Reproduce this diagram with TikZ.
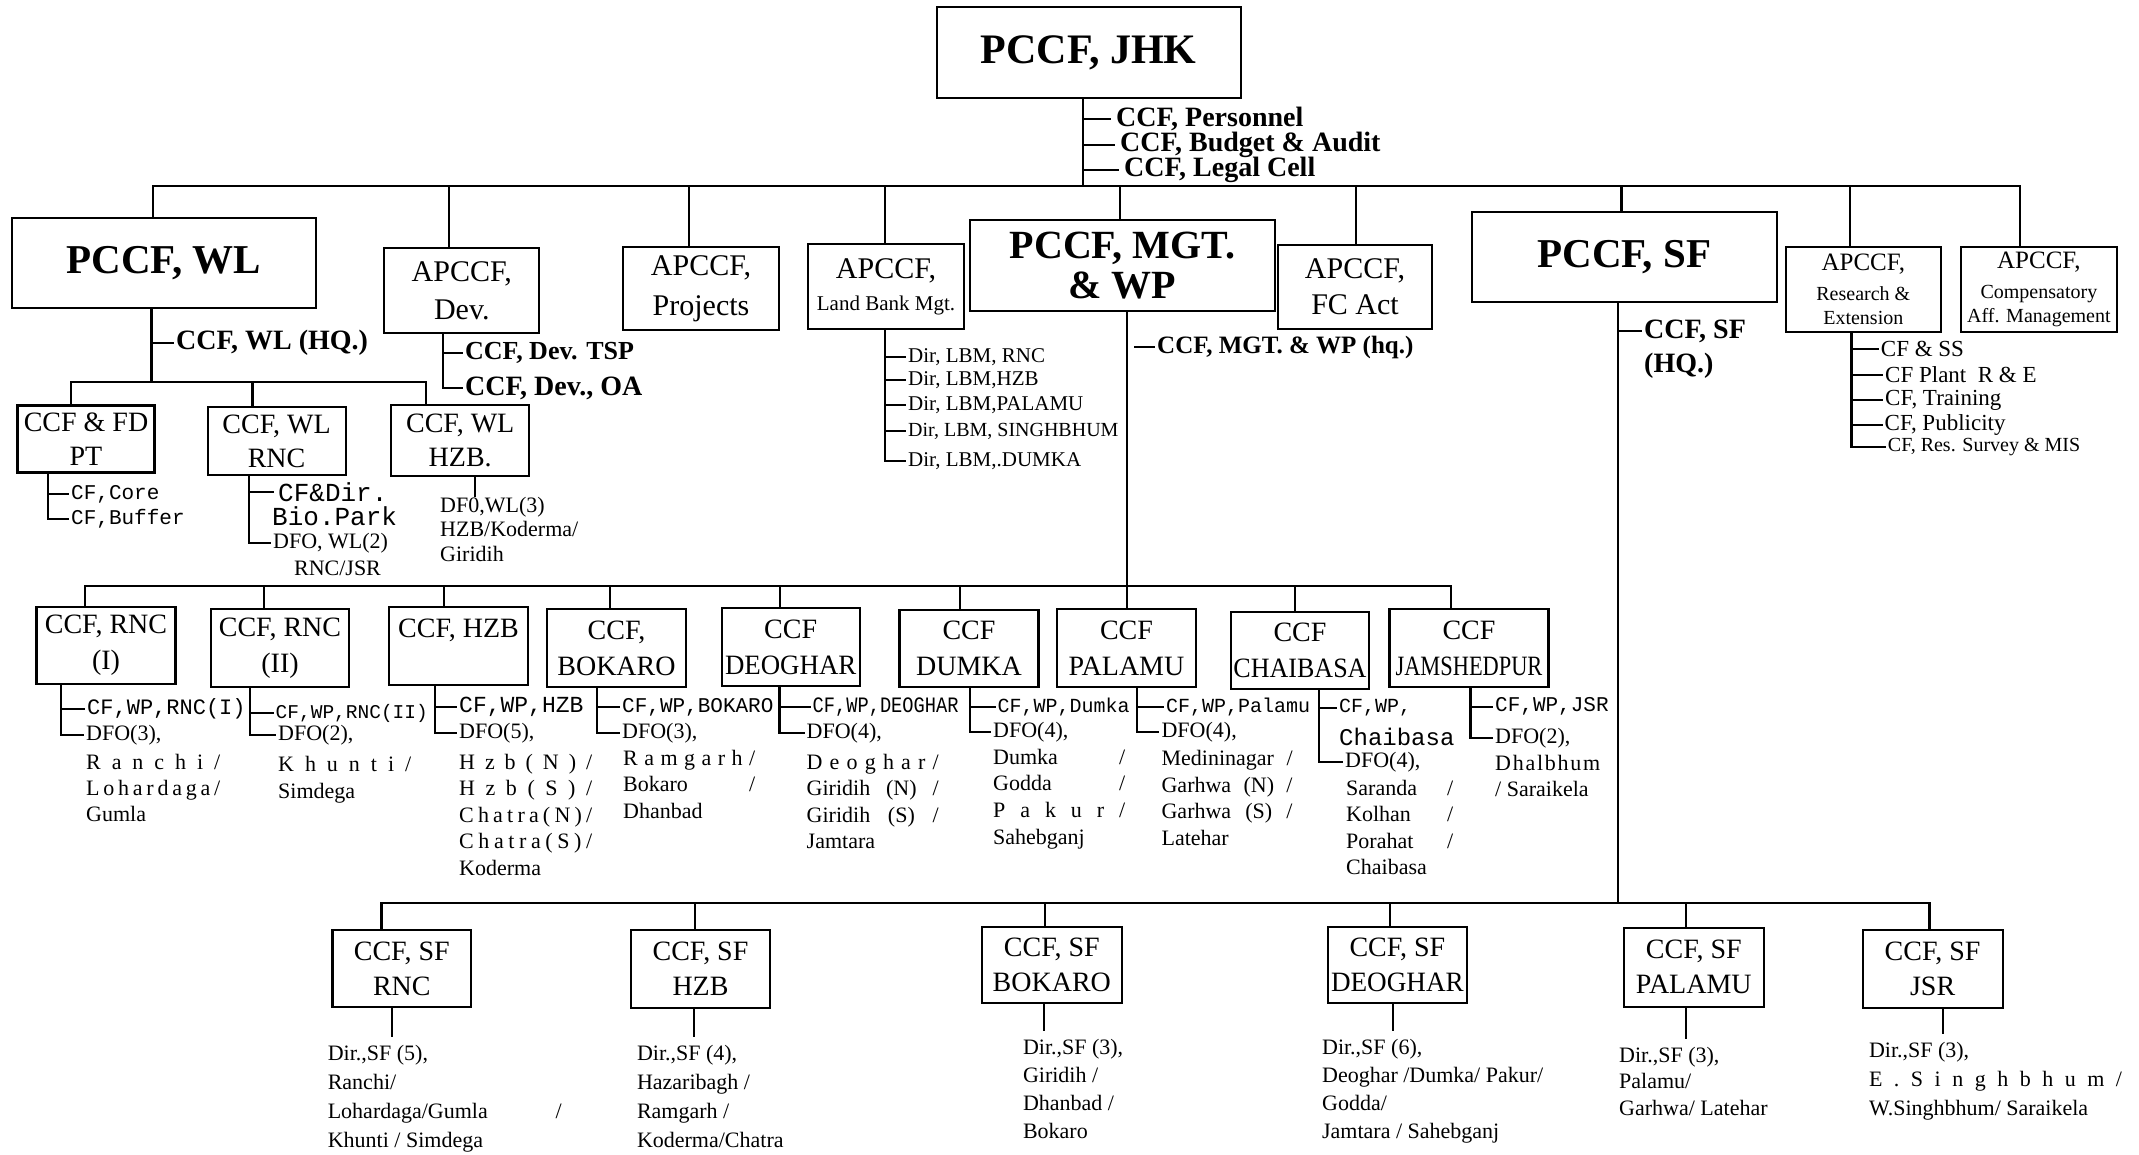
\documentclass[tikz,border=0pt]{standalone}
\usepackage{fontspec}
\usepackage{graphicx}
\setmainfont{Liberation Serif}
\setmonofont{Liberation Mono}
\usetikzlibrary{positioning}

\newcommand\fsz[2]{\fontsize{#1}{#2}\selectfont}
\newcommand\wspread[2]{\makebox[#1pt][s]{#2}}
\newcommand\lspread[2]{\makebox[#1pt][s]{\lspreadA#2\relax}}
\def\lspreadA#1{#1\lspreadB}
\def\lspreadB#1{\ifx\relax#1\else\hfil#1\expandafter\lspreadB\fi}

\tikzset{
  orgbox/.style={draw, line width=2.2pt, inner sep=0pt, align=center},
  wire/.style={line width=2.2pt},
  stub/.style={wire, shorten >=8pt},
  entry/.style={anchor=west, inner sep=2pt},
  typew/.style={entry, font=\ttfamily\fsz{#1}{#1}},
  dfo/.style={entry, font=\fsz{22}{22}},
  hqtext/.style={entry, font=\bfseries\fsz{#1}{#1}},
  block/.style 2 args={anchor=north west, inner sep=0pt, align=left, font=\fsz{#1}{#2}},
}

\begin{document}
\begin{tikzpicture}[x=1pt, y=-1pt]
\useasboundingbox (0,0) rectangle (2139,1154);

% top
\node[orgbox, minimum width=304pt, minimum height=91pt, font=\bfseries\fsz{42}{42}] (jhk) at (1088.7,52.5) {PCCF, JHK};
\coordinate (jhks) at (1083,186);
\draw[wire] (jhks |- jhk.south) -- (jhks);
\node[hqtext=28, inner sep=0pt] (per) at (1116,119) {CCF, Personnel};
\node[hqtext=28, inner sep=0pt] (bud) at (1120,145) {CCF, Budget \& Audit};
\node[hqtext=28, inner sep=0pt] (leg) at (1124,170) {CCF, Legal Cell};
\foreach \n in {per,bud,leg}
  \draw[wire] (jhks |- \n.west) -- ([xshift=-5pt]\n.west);

% first row
\node[orgbox, minimum width=304pt, minimum height=90pt, font=\bfseries\fsz{41}{41}] (wl) at (163.8,263) {PCCF, WL};
\node[orgbox, minimum width=155pt, minimum height=85pt, font=\fsz{30}{38}] (dev) at (461.8,290.5) {APCCF,\\Dev.};
\node[orgbox, minimum width=156pt, minimum height=83pt, font=\fsz{30}{40}] (proj) at (701,288.5) {APCCF,\\Projects};
\node[orgbox, minimum width=156pt, minimum height=85pt, font=\fsz{21}{32}] (lbm) at (886,286.5) {{\fsz{30}{32}APCCF,}\\Land Bank Mgt.};
\node[orgbox, minimum width=305pt, minimum height=91pt, font=\bfseries\fsz{40}{40}] (mgt) at (1122.5,265.5) {PCCF, MGT.\\\& WP};
\node[orgbox, minimum width=154pt, minimum height=84pt, font=\fsz{30}{36}] (fca) at (1355,287) {APCCF,\\FC Act};
\node[orgbox, minimum width=305pt, minimum height=90pt, font=\bfseries\fsz{41}{41}] (sf) at (1624.3,256.7) {PCCF, SF};
\node[orgbox, minimum width=155pt, minimum height=85pt, font=\fsz{20}{24}] (rne) at (1863.3,289.2) {{\fsz{25}{24}APCCF,}\\[6pt]Research \&\\Extension};
\node[orgbox, minimum width=156pt, minimum height=85pt, font=\fsz{20}{24}] (caf) at (2038.9,289.3) {{\fsz{25}{24}APCCF,}\\[6pt]Compensatory\\Aff. Management};

\coordinate (b1w) at (153,186);
\coordinate (b1e) at (2020,186);
\draw[wire] (b1w |- wl.north) -- (b1w) -- (b1e) -- (b1e |- caf.north);
\foreach \x/\b in {448.6/dev, 688.7/proj, 884.6/lbm, 1120/mgt, 1355.6/fca, 1621.5/sf, 1850/rne} {
  \coordinate (t) at (\x,186);
  \draw[wire] (t) -- (t |- \b.north);
}

% wild life
\coordinate (wls) at ([xshift=-12.3pt]wl.south);
\node[hqtext=28] (wlhq) at (174,343) {CCF, WL (HQ.)};
\draw[wire] (wls |- wlhq.west) -- (wlhq.west);
\node[orgbox, minimum width=137pt, minimum height=67pt, font=\fsz{28}{34}] (pt) at (86,439) {CCF \& FD\\PT};
\node[orgbox, minimum width=138pt, minimum height=68pt, font=\fsz{28}{34}] (wlr) at (276.6,440.9) {CCF, WL\\RNC};
\node[orgbox, minimum width=138pt, minimum height=71pt, font=\fsz{28}{34}] (wlh) at (460.2,440.5) {CCF, WL\\HZB.};
\coordinate (b2w) at (71,382);
\coordinate (b2e) at (425.6,382);
\draw[wire] (wls) -- (wls |- b2w);
\draw[wire] (b2w |- pt.north) -- (b2w) -- (b2e) -- (b2e |- wlh.north);
\coordinate (t) at (252.5,382);
\draw[wire] (t) -- (t |- wlr.north);

\coordinate (pts) at ([xshift=-38pt]pt.south);
\node[typew=21] (core) at (69,494) {CF,Core};
\node[typew=21] (buf) at (69,519) {CF,Buffer};
\draw[wire] (pts) |- (buf.west);
\draw[wire] (pts |- core.west) -- (core.west);

\coordinate (wlrs) at ([xshift=-27.6pt]wlr.south);
\node[typew=26, inner sep=0pt] (bio) at (278,492) {CF\&Dir.};
\node[typew=26, inner sep=0pt] (park) at (272,516) {Bio.Park};
\node[dfo] (wldfo) at (271,543) {DFO, WL(2)};
\node[font=\fsz{22}{22}, inner sep=0pt] (wljsr) at (337.5,568) {RNC/JSR};
\draw[wire] (wlrs) |- (wldfo.west);
\draw[wire] (wlrs |- bio.west) -- ([xshift=-4pt]bio.west);

\coordinate (wlhs) at ([xshift=14.8pt]wlh.south);
\node[block={22}{24.5}] (wlhd) at (440,497) {DF0,WL(3)\\HZB/Koderma/\\Giridih};
\draw[wire] (wlhs) -- (wlhs |- wlhd.north);

% development
\coordinate (devs) at ([xshift=-18.8pt]dev.south);
\node[hqtext=26] (tsp) at (463,352.7) {CCF, Dev. TSP};
\node[hqtext=28] (oa) at (463,388) {CCF, Dev., OA};
\draw[wire] (devs) |- (oa.west);
\draw[wire] (devs |- tsp.west) -- (tsp.west);

% land bank
\coordinate (lbms) at ([xshift=-1.4pt]lbm.south);
\foreach \n/\y/\t in {l1/357/{Dir, LBM, RNC}, l2/380/{Dir, LBM,HZB}, l3/405/{Dir, LBM,PALAMU}, l4/431/{\fsz{20}{20}Dir, LBM, SINGHBHUM}, l5/461/{Dir, LBM,.DUMKA}}
  \node[entry, font=\fsz{21}{21}] (\n) at (906,\y) {\t};
\draw[wire] (lbms) |- (l5.west);
\foreach \n in {l1,l2,l3,l4}
  \draw[wire] (lbms |- \n.west) -- (\n.west);

% management and working plan
\coordinate (mgts) at ([xshift=4.5pt]mgt.south);
\coordinate (mgtq) at (1134,347);
\node[hqtext=25] (mgthq) at (1155,347) {CCF, MGT. \& WP (hq.)};
\draw[wire] (mgtq) -- (mgthq.west);

\node[orgbox, minimum width=139pt, minimum height=77pt, font=\fsz{28}{36}] (r1) at (106,645.5) {CCF, RNC\\(I)};
\node[orgbox, minimum width=138pt, minimum height=78pt, font=\fsz{28}{36}] (r2) at (280,648) {CCF, RNC\\(II)};
\node[orgbox, minimum width=139pt, minimum height=78pt, font=\fsz{28}{36}] (hz) at (458.5,646) {CCF, HZB\\\mbox{}};
\node[orgbox, minimum width=139pt, minimum height=78pt, font=\fsz{28}{36}] (bk) at (616.5,648) {CCF,\\BOKARO};
\node[orgbox, minimum width=138pt, minimum height=78pt, font=\fsz{28}{36}] (dg) at (790.7,647) {CCF\\\scalebox{0.96}[1]{DEOGHAR}};
\node[orgbox, minimum width=139pt, minimum height=77pt, font=\fsz{28}{36}] (dm) at (969,648.5) {CCF\\DUMKA};
\node[orgbox, minimum width=139pt, minimum height=78pt, font=\fsz{28}{36}] (pl) at (1126.5,648) {CCF\\PALAMU};
\node[orgbox, minimum width=138pt, minimum height=77pt, font=\fsz{28}{36}] (ch) at (1300,650.5) {CCF\\\scalebox{0.93}[1]{CHAIBASA}};
\node[orgbox, minimum width=159pt, minimum height=78pt, font=\fsz{28}{36}] (js) at (1469,648) {CCF\\\scalebox{0.8}[1]{JAMSHEDPUR}};

\draw[wire] (mgts) -- (mgts |- pl.north);
\coordinate (b3w) at (85,586);
\coordinate (b3e) at (1451,586);
\draw[wire] (b3w |- r1.north) -- (b3w) -- (b3e) -- (b3e |- js.north);
\foreach \x/\b in {264/r2, 444/hz, 609.7/bk, 780/dg, 960/dm, 1294.6/ch} {
  \coordinate (t) at (\x,586);
  \draw[wire] (t) -- (t |- \b.north);
}

% territorial circles
\coordinate (r1s) at ([xshift=-45pt]r1.south);
\node[typew=22] (r1a) at (85,709) {CF,WP,RNC(I)};
\node[dfo] (r1b) at (84,735) {DFO(3),};
\node[block={22}{26}] (r1c) at (86,753.7) {\lspread{134}{Ranchi/}\\\lspread{134}{Lohardaga/}\\Gumla};
\draw[wire] (r1s) |- (r1b.west);
\draw[wire] (r1s |- r1a.west) -- (r1a.west);

\coordinate (r2s) at ([xshift=-30pt]r2.south);
\node[typew=19.5] (r2a) at (273.5,713) {CF,WP,RNC(II)};
\node[dfo] (r2b) at (276,735) {DFO(2),};
\node[block={22}{26.7}] (r2c) at (278,756) {\lspread{133}{Khunti/}\\Simdega};
\draw[wire] (r2s) |- (r2b.west);
\draw[wire] (r2s |- r2a.west) -- (r2a.west);

\coordinate (hzs) at ([xshift=-23.7pt]hz.south);
\node[typew=23] (hza) at (457,707) {CF,WP,HZB};
\node[dfo] (hzb) at (457,733) {DFO(5),};
\node[block={22}{26.6}] (hzc) at (459,753.7) {\lspread{133}{Hzb(N)/}\\\lspread{133}{Hzb(S)/}\\\lspread{133}{Chatra(N)/}\\\lspread{133}{Chatra(S)/}\\Koderma};
\draw[wire] (hzs) |- (hzb.west);
\draw[wire] (hzs |- hza.west) -- (hza.west);

\coordinate (bks) at ([xshift=-19.5pt]bk.south);
\node[typew=21] (bka) at (620,707) {CF,WP,BOKARO};
\node[dfo] (bkb) at (620,733) {DFO(3),};
\node[block={22}{26.5}] (bkc) at (623,750) {\lspread{132}{Ramgarh/}\\\wspread{132}{Bokaro /}\\Dhanbad};
\draw[wire] (bks) |- (bkb.west);
\draw[wire] (bks |- bka.west) -- (bka.west);

\coordinate (dgs) at ([xshift=-11.3pt]dg.south);
\node[typew=22] (dga) at (810.5,707) {\scalebox{0.85}[1]{CF,WP,DEOGHAR}};
\node[dfo] (dgb) at (804.5,733) {DFO(4),};
\node[block={22}{26.6}] (dgc) at (806.5,753.7) {\lspread{132}{Deoghar/}\\\wspread{132}{Giridih (N) /}\\\wspread{132}{Giridih (S) /}\\Jamtara};
\draw[wire] (dgs) |- (dgb.west);
\draw[wire] (dgs |- dga.west) -- (dga.west);

\coordinate (dms) at ([xshift=1pt]dm.south);
\node[typew=20] (dma) at (995.5,707) {CF,WP,Dumka};
\node[dfo] (dmb) at (991,731.7) {DFO(4),};
\node[block={22}{26.8}] (dmc) at (993,748.7) {\wspread{132}{Dumka /}\\\wspread{132}{Godda /}\\\lspread{132}{Pakur/}\\Sahebganj};
\draw[wire] (dms) |- (dmb.west);
\draw[wire] (dms |- dma.west) -- (dma.west);

\coordinate (pls) at ([xshift=10.5pt]pl.south);
\node[typew=20] (pla) at (1164,707) {CF,WP,Palamu};
\node[dfo] (plb) at (1159.4,731.7) {DFO(4),};
\node[block={22}{26.7}] (plc) at (1161.4,750) {\wspread{131}{Medininagar /}\\\wspread{131}{Garhwa (N) /}\\\wspread{131}{Garhwa (S) /}\\Latehar};
\draw[wire] (pls) |- (plb.west);
\draw[wire] (pls |- pla.west) -- (pla.west);

\coordinate (chs) at ([xshift=19pt]ch.south);
\node[typew=20] (cha) at (1337,708) {CF,WP,};
\node[typew=24] (chb) at (1337,736.7) {Chaibasa};
\node[dfo] (chc) at (1343,761.7) {DFO(4),};
\node[block={22}{26.3}] (chd) at (1346,780) {\wspread{107}{Saranda /}\\\wspread{107}{Kolhan /}\\\wspread{107}{Porahat /}\\Chaibasa};
\draw[wire] (chs) |- (chc.west);
\draw[wire] (chs |- cha.west) -- (cha.west);

\coordinate (jss) at ([xshift=1.5pt]js.south);
\node[typew=21] (jsa) at (1493,706.7) {CF,WP,JSR};
\node[dfo] (jsb) at (1493,738) {DFO(2),};
\node[block={22}{26.3}] (jsc) at (1495,754.7) {\lspread{105}{Dhalbhum}\\/ Saraikela};
\draw[wire] (jss) |- (jsb.west);
\draw[wire] (jss |- jsa.west) -- (jsa.west);

% social forestry
\coordinate (sfs) at ([xshift=-6.6pt]sf.south);
\node[hqtext=28] (sfhq) at (1642,331) {CCF, SF};
\node[hqtext=28] (sfhq2) at (1642,366) {(HQ.)};
\draw[wire] (sfs |- sfhq.west) -- (sfhq.west);

\node[orgbox, minimum width=138.5pt, minimum height=77pt, font=\fsz{28}{35}] (s1) at (401.8,968.5) {CCF, SF\\RNC};
\node[orgbox, minimum width=139pt, minimum height=78pt, font=\fsz{28}{35}] (s2) at (700.5,969) {CCF, SF\\HZB};
\node[orgbox, minimum width=140pt, minimum height=76pt, font=\fsz{28}{35}] (s3) at (1051.8,964.9) {CCF, SF\\BOKARO};
\node[orgbox, minimum width=139pt, minimum height=76pt, font=\fsz{28}{35}] (s4) at (1397.4,964.9) {CCF, SF\\\scalebox{0.97}[1]{DEOGHAR}};
\node[orgbox, minimum width=140pt, minimum height=79pt, font=\fsz{28}{35}] (s5) at (1693.8,967.3) {CCF, SF\\PALAMU};
\node[orgbox, minimum width=140pt, minimum height=78pt, font=\fsz{28}{35}] (s6) at (1932.6,969) {CCF, SF\\JSR};

\coordinate (b4w) at (381.5,903);
\coordinate (b4e) at (1929.4,903);
\draw[wire] (sfs) -- (sfs |- b4w);
\draw[wire] (b4w |- s1.north) -- (b4w) -- (b4e) -- (b4e |- s6.north);
\foreach \x/\b in {695.3/s2, 1045/s3, 1389.7/s4, 1686/s5} {
  \coordinate (t) at (\x,903);
  \draw[wire] (t) -- (t |- \b.north);
}

\node[block={22}{29}] (s1t) at (327.6,1045) {Dir.,SF (5),\\Ranchi/\\\wspread{234}{Lohardaga/Gumla /}\\Khunti / Simdega};
\node[block={22}{29}] (s2t) at (636.8,1045) {Dir.,SF (4),\\Hazaribagh /\\Ramgarh /\\Koderma/Chatra};
\node[block={22}{28}] (s3t) at (1022.8,1039) {Dir.,SF (3),\\Giridih /\\Dhanbad /\\Bokaro};
\node[block={22}{28}] (s4t) at (1321.9,1039) {Dir.,SF (6),\\Deoghar /Dumka/ Pakur/\\Godda/\\Jamtara / Sahebganj};
\node[block={22}{26.5}] (s5t) at (1619,1047) {Dir.,SF (3),\\Palamu/\\Garhwa/ Latehar};
\node[block={22}{29}] (s6t) at (1868.8,1042) {Dir.,SF (3),\\\lspread{253}{E.Singhbhum/}\\W.Singhbhum/ Saraikela};
\foreach \b/\dx in {s1/-10, s2/-6.5, s3/-8.1, s4/-4.4, s5/-7.8, s6/10} {
  \coordinate (t) at ([xshift=\dx pt]\b.south);
  \draw[stub] (t) -- (t |- \b t.north);
}

% research and extension
\coordinate (rnes) at ([xshift=-11.8pt]rne.south);
\foreach \n/\x/\y/\t in {e1/1878.7/349.3/{CF \& SS}, e2/1883/375/{CF Plant\ \ R \& E}, e3/1883/400/{CF, Training}, e4/1882.5/425/{CF, Publicity}, e5/1885.7/447/{\fsz{20}{20}CF, Res. Survey \& MIS}}
  \node[entry, font=\fsz{23}{23}] (\n) at (\x,\y) {\t};
\draw[wire] (rnes) |- (e5.west);
\foreach \n in {e1,e2,e3,e4}
  \draw[wire] (rnes |- \n.west) -- (\n.west);

\end{tikzpicture}
\end{document}
